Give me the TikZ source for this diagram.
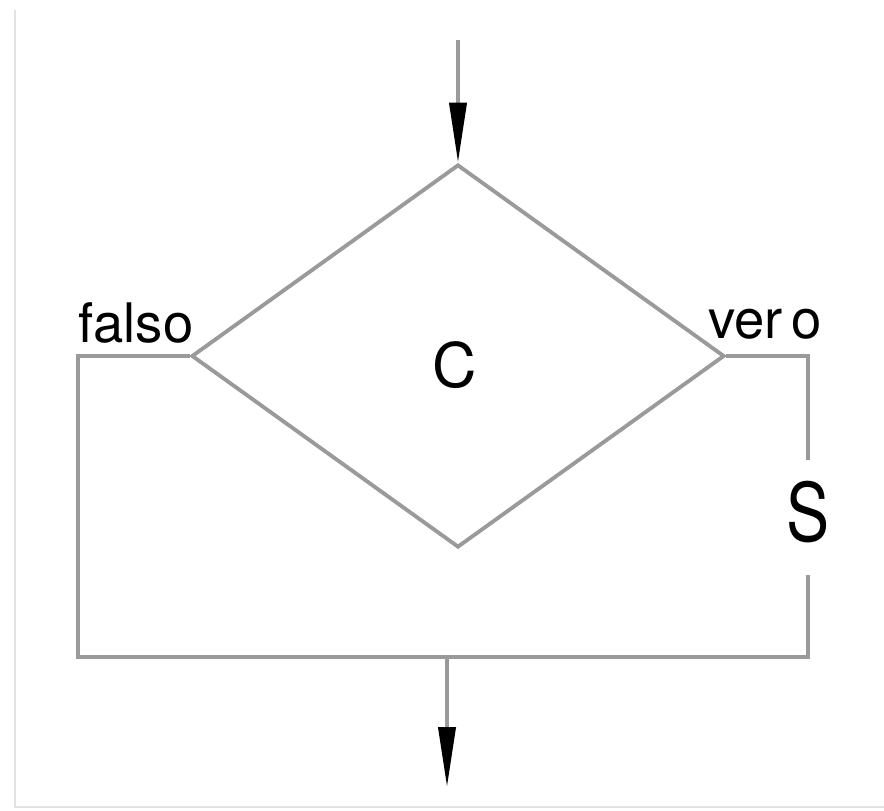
\documentclass[tikz,border=0pt]{standalone}
\usepackage{fontspec}
\setmainfont{TeX Gyre Heros}
\usetikzlibrary{shapes.geometric,arrows.meta}
\definecolor{linegray}{HTML}{9A9A9A}
\definecolor{framegray}{HTML}{E2E2E2}
\begin{document}
\begin{tikzpicture}[x=0.02cm,y=-0.02cm,
  flow/.style={draw=linegray,line width=2.2pt},
  tipdown/.style={-{Triangle[length=1.2cm,width=0.34cm,black]}},
  lbl/.style={font=\fontsize{31}{36}\selectfont,inner sep=0pt}]
\useasboundingbox (0,0) rectangle (884,810);
% faint frame
\coordinate (f1) at (15,10);
\coordinate (f2) at (15,807);
\coordinate (f3) at (884,807);
\draw[framegray,line width=1.2pt] (f1) -- (f2) -- (f3);
% decision
\node[diamond,flow,minimum width=10.66cm,minimum height=7.66cm,inner sep=0pt] (d) at (458,356) {};
\node[font=\fontsize{35}{40}\selectfont,inner sep=0pt] (c) at (455,365) {C};
% labels
\node[lbl,anchor=base] (falso) at (136,342) {falso};
\node[lbl,anchor=base] (vero) at (765,338) {ver\,o};
\node[font=\fontsize{46}{52}\selectfont,inner sep=0pt,xscale=0.8] (s) at (808,512) {S};
% coordinates
\coordinate (top) at (458,40);
\coordinate (lc) at (78,356);
\coordinate (lb) at (78,657);
\coordinate (rb) at (808,657);
\coordinate (rt) at (808,356);
\coordinate (st) at (808,460);
\coordinate (sb) at (808,575);
\coordinate (j) at (447,657);
\coordinate (end) at (447,787);
% connectors
\draw[flow,tipdown] (top) -- (d.north);
\draw[flow] (d.west) -- (lc) -- (lb) -- (rb) -- (sb);
\draw[flow] (st) -- (rt) -- (d.east);
\draw[flow,tipdown] (j) -- (end);
\end{tikzpicture}
\end{document}
